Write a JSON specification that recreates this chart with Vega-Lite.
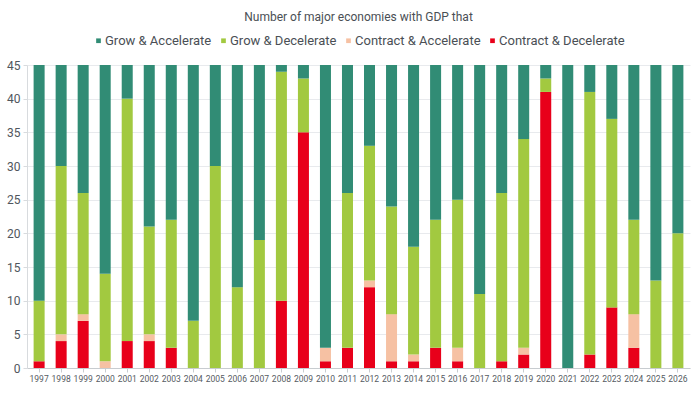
{
  "$schema": "https://vega.github.io/schema/vega-lite/v6.json",
  "autosize": {"type": "fit", "contains": "padding"},
  "width": 700,
  "height": 394,
  "padding": {"left": 6, "right": 10, "top": 11, "bottom": 11},
  "background": "white",
  "title": {"text": "Number of major economies with GDP that", "fontSize": 12, "font": "Roboto", "fontWeight": "normal", "color": "#4a4f55", "offset": 10},
  "data": {"values": [
    {"year":"1997","cat":"Contract & Decelerate","v":1},{"year":"1997","cat":"Contract & Accelerate","v":0},{"year":"1997","cat":"Grow & Decelerate","v":9},{"year":"1997","cat":"Grow & Accelerate","v":35},
    {"year":"1998","cat":"Contract & Decelerate","v":4},{"year":"1998","cat":"Contract & Accelerate","v":1},{"year":"1998","cat":"Grow & Decelerate","v":25},{"year":"1998","cat":"Grow & Accelerate","v":15},
    {"year":"1999","cat":"Contract & Decelerate","v":7},{"year":"1999","cat":"Contract & Accelerate","v":1},{"year":"1999","cat":"Grow & Decelerate","v":18},{"year":"1999","cat":"Grow & Accelerate","v":19},
    {"year":"2000","cat":"Contract & Decelerate","v":0},{"year":"2000","cat":"Contract & Accelerate","v":1},{"year":"2000","cat":"Grow & Decelerate","v":13},{"year":"2000","cat":"Grow & Accelerate","v":31},
    {"year":"2001","cat":"Contract & Decelerate","v":4},{"year":"2001","cat":"Contract & Accelerate","v":0},{"year":"2001","cat":"Grow & Decelerate","v":36},{"year":"2001","cat":"Grow & Accelerate","v":5},
    {"year":"2002","cat":"Contract & Decelerate","v":4},{"year":"2002","cat":"Contract & Accelerate","v":1},{"year":"2002","cat":"Grow & Decelerate","v":16},{"year":"2002","cat":"Grow & Accelerate","v":24},
    {"year":"2003","cat":"Contract & Decelerate","v":3},{"year":"2003","cat":"Contract & Accelerate","v":0},{"year":"2003","cat":"Grow & Decelerate","v":19},{"year":"2003","cat":"Grow & Accelerate","v":23},
    {"year":"2004","cat":"Contract & Decelerate","v":0},{"year":"2004","cat":"Contract & Accelerate","v":0},{"year":"2004","cat":"Grow & Decelerate","v":7},{"year":"2004","cat":"Grow & Accelerate","v":38},
    {"year":"2005","cat":"Contract & Decelerate","v":0},{"year":"2005","cat":"Contract & Accelerate","v":0},{"year":"2005","cat":"Grow & Decelerate","v":30},{"year":"2005","cat":"Grow & Accelerate","v":15},
    {"year":"2006","cat":"Contract & Decelerate","v":0},{"year":"2006","cat":"Contract & Accelerate","v":0},{"year":"2006","cat":"Grow & Decelerate","v":12},{"year":"2006","cat":"Grow & Accelerate","v":33},
    {"year":"2007","cat":"Contract & Decelerate","v":0},{"year":"2007","cat":"Contract & Accelerate","v":0},{"year":"2007","cat":"Grow & Decelerate","v":19},{"year":"2007","cat":"Grow & Accelerate","v":26},
    {"year":"2008","cat":"Contract & Decelerate","v":10},{"year":"2008","cat":"Contract & Accelerate","v":0},{"year":"2008","cat":"Grow & Decelerate","v":34},{"year":"2008","cat":"Grow & Accelerate","v":1},
    {"year":"2009","cat":"Contract & Decelerate","v":35},{"year":"2009","cat":"Contract & Accelerate","v":0},{"year":"2009","cat":"Grow & Decelerate","v":8},{"year":"2009","cat":"Grow & Accelerate","v":2},
    {"year":"2010","cat":"Contract & Decelerate","v":1},{"year":"2010","cat":"Contract & Accelerate","v":2},{"year":"2010","cat":"Grow & Decelerate","v":0},{"year":"2010","cat":"Grow & Accelerate","v":42},
    {"year":"2011","cat":"Contract & Decelerate","v":3},{"year":"2011","cat":"Contract & Accelerate","v":0},{"year":"2011","cat":"Grow & Decelerate","v":23},{"year":"2011","cat":"Grow & Accelerate","v":19},
    {"year":"2012","cat":"Contract & Decelerate","v":12},{"year":"2012","cat":"Contract & Accelerate","v":1},{"year":"2012","cat":"Grow & Decelerate","v":20},{"year":"2012","cat":"Grow & Accelerate","v":12},
    {"year":"2013","cat":"Contract & Decelerate","v":1},{"year":"2013","cat":"Contract & Accelerate","v":7},{"year":"2013","cat":"Grow & Decelerate","v":16},{"year":"2013","cat":"Grow & Accelerate","v":21},
    {"year":"2014","cat":"Contract & Decelerate","v":1},{"year":"2014","cat":"Contract & Accelerate","v":1},{"year":"2014","cat":"Grow & Decelerate","v":16},{"year":"2014","cat":"Grow & Accelerate","v":27},
    {"year":"2015","cat":"Contract & Decelerate","v":3},{"year":"2015","cat":"Contract & Accelerate","v":0},{"year":"2015","cat":"Grow & Decelerate","v":19},{"year":"2015","cat":"Grow & Accelerate","v":23},
    {"year":"2016","cat":"Contract & Decelerate","v":1},{"year":"2016","cat":"Contract & Accelerate","v":2},{"year":"2016","cat":"Grow & Decelerate","v":22},{"year":"2016","cat":"Grow & Accelerate","v":20},
    {"year":"2017","cat":"Contract & Decelerate","v":0},{"year":"2017","cat":"Contract & Accelerate","v":0},{"year":"2017","cat":"Grow & Decelerate","v":11},{"year":"2017","cat":"Grow & Accelerate","v":34},
    {"year":"2018","cat":"Contract & Decelerate","v":1},{"year":"2018","cat":"Contract & Accelerate","v":0},{"year":"2018","cat":"Grow & Decelerate","v":25},{"year":"2018","cat":"Grow & Accelerate","v":19},
    {"year":"2019","cat":"Contract & Decelerate","v":2},{"year":"2019","cat":"Contract & Accelerate","v":1},{"year":"2019","cat":"Grow & Decelerate","v":31},{"year":"2019","cat":"Grow & Accelerate","v":11},
    {"year":"2020","cat":"Contract & Decelerate","v":41},{"year":"2020","cat":"Contract & Accelerate","v":0},{"year":"2020","cat":"Grow & Decelerate","v":2},{"year":"2020","cat":"Grow & Accelerate","v":2},
    {"year":"2021","cat":"Contract & Decelerate","v":0},{"year":"2021","cat":"Contract & Accelerate","v":0},{"year":"2021","cat":"Grow & Decelerate","v":0},{"year":"2021","cat":"Grow & Accelerate","v":45},
    {"year":"2022","cat":"Contract & Decelerate","v":2},{"year":"2022","cat":"Contract & Accelerate","v":0},{"year":"2022","cat":"Grow & Decelerate","v":39},{"year":"2022","cat":"Grow & Accelerate","v":4},
    {"year":"2023","cat":"Contract & Decelerate","v":9},{"year":"2023","cat":"Contract & Accelerate","v":0},{"year":"2023","cat":"Grow & Decelerate","v":28},{"year":"2023","cat":"Grow & Accelerate","v":8},
    {"year":"2024","cat":"Contract & Decelerate","v":3},{"year":"2024","cat":"Contract & Accelerate","v":5},{"year":"2024","cat":"Grow & Decelerate","v":14},{"year":"2024","cat":"Grow & Accelerate","v":23},
    {"year":"2025","cat":"Contract & Decelerate","v":0},{"year":"2025","cat":"Contract & Accelerate","v":0},{"year":"2025","cat":"Grow & Decelerate","v":13},{"year":"2025","cat":"Grow & Accelerate","v":32},
    {"year":"2026","cat":"Contract & Decelerate","v":0},{"year":"2026","cat":"Contract & Accelerate","v":0},{"year":"2026","cat":"Grow & Decelerate","v":20},{"year":"2026","cat":"Grow & Accelerate","v":25}
  ]},
  "mark": {"type": "bar"},
  "encoding": {
    "x": {"field": "year", "type": "nominal", "title": null,
      "scale": {"paddingInner": 0.5, "paddingOuter": 0.3},
      "axis": {"labelAngle": 0, "labelFontSize": 8.5, "labelFont": "Roboto", "labelColor": "#555b62", "labelOverlap": false, "domainColor": "#c8ccd0", "tickColor": "#c8ccd0", "tickSize": 4, "labelPadding": 2}},
    "y": {"field": "v", "type": "quantitative", "stack": "zero", "title": null,
      "scale": {"domain": [0, 45]},
      "axis": {"values": [0,5,10,15,20,25,30,35,40,45], "labelFontSize": 12, "labelFont": "Roboto", "labelColor": "#50565d", "gridColor": "#e8eaed", "domainColor": "#d8dbde", "tickColor": "#d8dbde", "tickSize": 4, "labelPadding": 3}},
    "color": {"field": "cat", "type": "nominal", "title": null,
      "scale": {"domain": ["Grow & Accelerate", "Grow & Decelerate", "Contract & Accelerate", "Contract & Decelerate"],
                "range": ["#318c75", "#a2c940", "#f6c1a3", "#e8001a"]},
      "legend": {"orient": "top", "direction": "horizontal", "symbolType": "square", "symbolSize": 22, "labelFontSize": 13, "labelFont": "Roboto", "labelColor": "#4a4f55", "columnPadding": 5, "symbolOffset": 0, "labelOffset": 0, "padding": 0, "offset": 17}},
    "order": {"field": "ord", "type": "quantitative"}
  },
  "transform": [
    {"calculate": "indexof(['Contract & Decelerate','Contract & Accelerate','Grow & Decelerate','Grow & Accelerate'], datum.cat)", "as": "ord"}
  ],
  "config": {"view": {"stroke": null}, "legend": {"layout": {"top": {"anchor": "middle"}}}}
}
